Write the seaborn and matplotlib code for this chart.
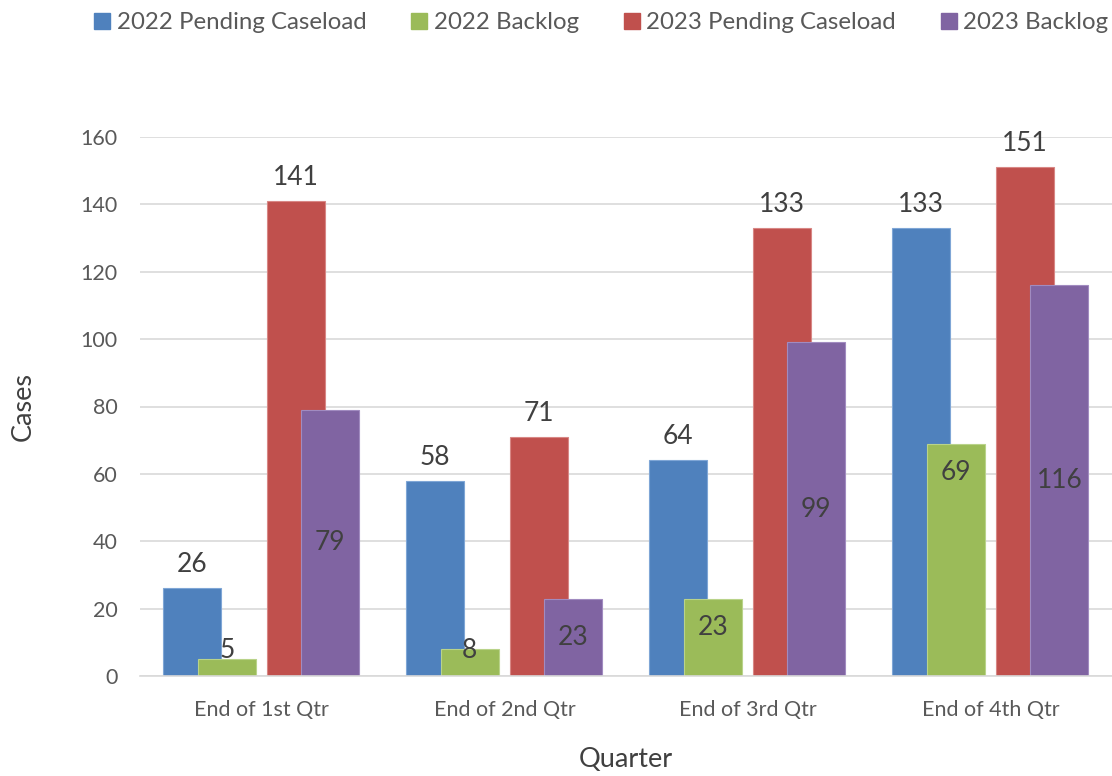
import numpy as np
import pandas as pd
import matplotlib
matplotlib.use("Agg")
import matplotlib.pyplot as plt
import seaborn as sns
from matplotlib.lines import Line2D

sns.set_style("white")
plt.rcParams['font.family'] = ['Lato', 'DejaVu Sans']

# data
quarters = ["End of 1st Qtr", "End of 2nd Qtr", "End of 3rd Qtr", "End of 4th Qtr"]
pending_2022 = [26, 58, 64, 133]
backlog_2022 = [5, 8, 23, 69]
pending_2023 = [141, 71, 133, 151]
backlog_2023 = [79, 23, 99, 116]

series_names = ["2022 Pending Caseload", "2022 Backlog", "2023 Pending Caseload", "2023 Backlog"]
series_values = [pending_2022, backlog_2022, pending_2023, backlog_2023]
colors = ["#4F81BD", "#9BBB59", "#C0504D", "#8064A2"]
edges = ["#7FA6D6", "#B9D38A", "#D88785", "#A18BC0"]
offsets = [-0.287, -0.143, 0.142, 0.283]
bar_w = 0.237

fig = plt.figure(figsize=(11.12, 7.76), dpi=100)
ax = fig.add_axes([140 / 1112, 1 - 676 / 776, 972 / 1112, (676 - 137) / 776])

pos = np.arange(len(quarters))
for name, vals, col, ec, off in zip(series_names, series_values, colors, edges, offsets):
    df = pd.DataFrame({"x": pos + off, "cases": vals})
    sns.barplot(data=df, x="x", y="cases", native_scale=True, width=bar_w,
                color=col, edgecolor=ec, linewidth=0.8, saturation=1,
                errorbar=None, ax=ax)

containers = ax.containers
lab_col = "#404040"
lab_size = 19
# pending caseload: labels above bars
for i in (0, 2):
    ax.bar_label(containers[i], labels=[str(v) for v in series_values[i]],
                 padding=8, fontsize=lab_size, color=lab_col, clip_on=False)
# 2022 backlog: inside end
for rect, v in zip(containers[1], backlog_2022):
    y = max(v - 8.5, 7.5)
    ax.text(rect.get_x() + rect.get_width() / 2, y, str(v), ha="center", va="center",
            fontsize=lab_size, color=lab_col)
# 2023 backlog: centered
ax.bar_label(containers[3], labels=[str(v) for v in backlog_2023],
             label_type="center", fontsize=lab_size, color=lab_col)

ax.set_xlim(-0.5, len(quarters) - 0.5)
ax.set_ylim(0, 160)
ax.set_yticks(range(0, 161, 20))
ax.set_xticks(pos)
ax.set_xticklabels(quarters)
ax.tick_params(axis="both", length=0, labelsize=15.5, colors="#595959")
ax.tick_params(axis="x", pad=17)
ax.tick_params(axis="y", pad=16)
ax.yaxis.grid(True, color="#D9D9D9", linewidth=1.2)
ax.set_axisbelow(True)
for s in ["top", "right", "left"]:
    ax.spines[s].set_visible(False)
ax.spines["bottom"].set_color("#D9D9D9")
ax.spines["bottom"].set_linewidth(1.2)

ax.set_xlabel("Quarter", fontsize=19.5, color="#404040", labelpad=20)
ax.set_ylabel("Cases", fontsize=19.5, color="#404040", labelpad=32)

handles = [Line2D([], [], marker="s", linestyle="none", markersize=11,
                  markerfacecolor=c, markeredgecolor=c) for c in colors]
fig.legend(handles, series_names, loc="upper center", bbox_to_anchor=(0.54, 1.012),
           ncol=4, frameon=False, fontsize=17.3, handletextpad=0.2,
           columnspacing=1.8, labelcolor="#595959", handlelength=0.8)

fig.savefig("out.png", dpi=100)
